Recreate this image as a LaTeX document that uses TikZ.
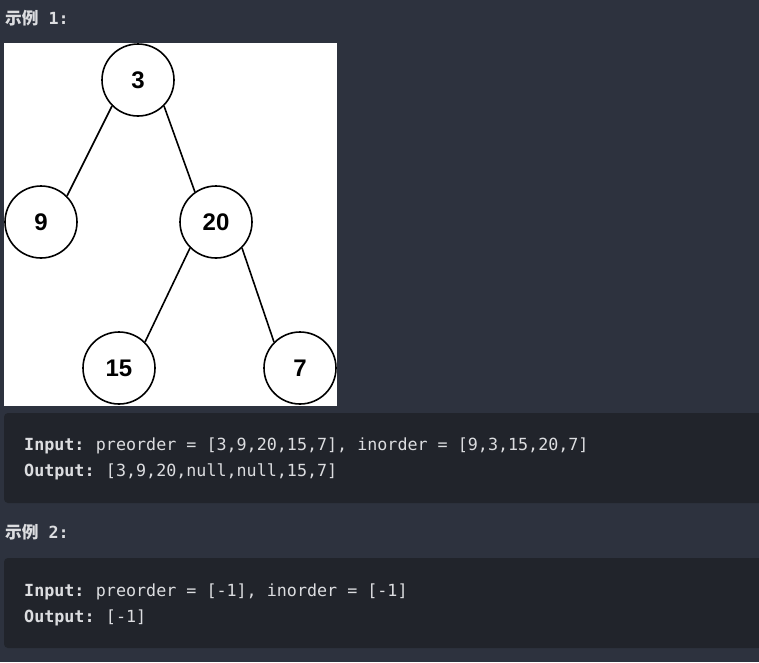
\documentclass[tikz,border=0pt]{standalone}
\usepackage{fontspec}
\setmainfont{Liberation Sans}
\setmonofont{DejaVu Sans Mono}
\newfontfamily\cjk{Noto Sans CJK SC}
\newfontfamily\codefont{DejaVu Sans Mono}
\definecolor{pagebg}{HTML}{2D323E}
\definecolor{codebg}{HTML}{21242B}
\definecolor{txt}{HTML}{DCDDE0}
\begin{document}
\begin{tikzpicture}[x=1pt,y=-1pt,
  treenode/.style={circle,draw=black,line width=1.6pt,fill=white,minimum size=72pt,inner sep=0pt,font=\fontsize{24}{24}\selectfont\bfseries,text=black},
  edge/.style={line width=1.6pt,draw=black},
  codeline/.style={anchor=base west,inner sep=0pt,text=txt,font=\fontsize{16.7}{20}\codefont},
  header/.style={anchor=base west,inner sep=0pt,text=txt,font=\fontsize{16.7}{20}\codefont\bfseries}]
\useasboundingbox (0,0) rectangle (759,662);
\fill[pagebg] (0,0) rectangle (759,662);
% header 1
\node[header] (h1) at (5,24) {{\cjk\bfseries 示例} 1:};
% white image
\fill[white] (4,43) rectangle (337,406);
\begin{scope}
\clip (4,43) rectangle (337,406);
\node[treenode] (n3) at (138,80) {3};
\node[treenode] (n9) at (41,222) {9};
\node[treenode] (n20) at (216,222) {20};
\node[treenode] (n15) at (119,368) {15};
\node[treenode] (n7) at (300,368) {7};
\draw[edge] (n3.south west) -- (n9.north east);
\draw[edge] (n3.south east) -- (n20.125);
\draw[edge] (n20.south west) -- (n15.north east);
\draw[edge] (n20.south east) -- (n7.north west);
\end{scope}
% code block 1
\fill[codebg,rounded corners=4pt] (4,413) rectangle (770,503);
\node[codeline] (i1) at (24,450) {\textbf{Input:}\hspace{-2pt} preorder = [3,9,20,15,7], inorder = [9,3,15,20,7]};
\node[codeline] (o1) at (24,476) {\textbf{Output:}\hspace{-2pt} [3,9,20,null,null,15,7]};
% header 2
\node[header] (h2) at (5,538) {{\cjk\bfseries 示例} 2:};
% code block 2
\fill[codebg,rounded corners=4pt] (4,558) rectangle (770,648);
\node[codeline] (i2) at (24,596) {\textbf{Input:}\hspace{-2pt} preorder = [-1], inorder = [-1]};
\node[codeline] (o2) at (24,622) {\textbf{Output:}\hspace{-2pt} [-1]};
\end{tikzpicture}
\end{document}
